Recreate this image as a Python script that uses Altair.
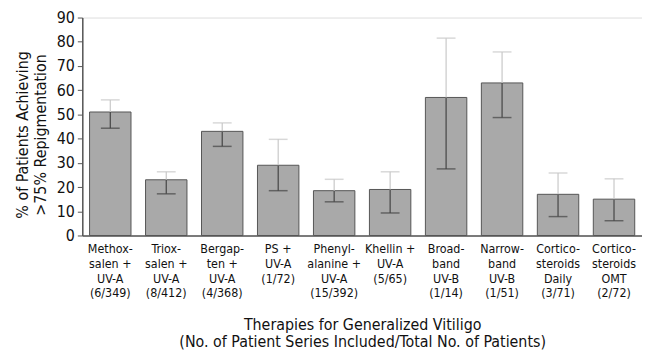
import altair as alt
import pandas as pd

categories = [
    "Methox-|salen +|UV-A|(6/349)",
    "Triox-|salen +|UV-A|(8/412)",
    "Bergap-|ten +|UV-A|(4/368)",
    "PS +|UV-A|(1/72)",
    "Phenyl-|alanine +|UV-A|(15/392)",
    "Khellin +|UV-A|(5/65)",
    "Broad-|band|UV-B|(1/14)",
    "Narrow-|band|UV-B|(1/51)",
    "Cortico-|steroids|Daily|(3/71)",
    "Cortico-|steroids|OMT|(2/72)",
]
values = [51, 23, 43, 29, 18.5, 19, 57, 63, 17, 15]
low = [44.3, 17.2, 36.8, 18.5, 13.9, 9.3, 27.5, 48.7, 7.8, 6.1]
high = [56, 26.3, 46.5, 39.7, 23.2, 26.3, 81.5, 75.8, 25.8, 23.4]
y_ticks = [0, 10, 20, 30, 40, 50, 60, 70, 80, 90]

df = pd.DataFrame({"cat": categories, "value": values, "low": low, "high": high})

FONT = "DejaVu Sans Condensed, Liberation Sans, sans-serif"

xaxis = alt.Axis(
    title=["Therapies for Generalized Vitiligo",
           "(No. of Patient Series Included/Total No. of Patients)"],
    labelAngle=0,
    labelExpr="split(datum.label, '|')",
    labelFont=FONT, labelFontSize=12.5, labelLineHeight=15,
    labelColor="#111", labelPadding=7, labelBaseline="top",
    labelOverlap=False,
    ticks=False, domainColor="#555", domainWidth=1.5,
    titleFont=FONT, titleFontSize=16, titleFontWeight="normal",
    titleColor="#111", titleLineHeight=18, titlePadding=17,
)
yaxis = alt.Axis(
    title=["% of Patients Achieving", ">75% Repigmentation"],
    values=y_ticks,
    labelOverlap=False,
    grid=False, tickSize=5, tickColor="#555", domainColor="#555",
    domainWidth=1.5, labelFont=FONT, labelFontSize=16, labelColor="#111",
    labelPadding=3,
    titleFont=FONT, titleFontSize=16, titleFontWeight="normal",
    titleColor="#111", titleLineHeight=18, titlePadding=8, titleY=118,
)
xscale = alt.Scale(paddingInner=0.26, paddingOuter=0.13)
yscale = alt.Scale(domain=[0, 90])


def X():
    return alt.X("cat:N", sort=categories, scale=xscale, axis=xaxis)


def Y(field):
    return alt.Y(f"{field}:Q", scale=yscale, axis=yaxis)


base = alt.Chart(df)
bars = base.mark_bar(color="#a9a9a9", stroke="#555", strokeWidth=1).encode(x=X(), y=Y("value"))
err_in = base.mark_rule(color="#444", strokeWidth=1.2).encode(
    x=X(), y=Y("low"), y2="value:Q")
err_out = base.mark_rule(color="#c8c8c8", strokeWidth=1.2).encode(
    x=X(), y=Y("value"), y2="high:Q")
cap_low = base.mark_tick(color="#444", size=19, thickness=1.5, orient="horizontal").encode(
    x=X(), y=Y("low"))
cap_high = base.mark_tick(color="#c8c8c8", size=19, thickness=1.5, orient="horizontal").encode(
    x=X(), y=Y("high"))

chart = alt.layer(bars, err_in, err_out, cap_low, cap_high).properties(
    width=565, height=220,
    autosize=alt.AutoSizeParams(type="none"),
    padding={"left": 75, "top": 8, "right": 0, "bottom": 118},
).configure_view(stroke="transparent", strokeWidth=0).configure(background="white")

chart.save("out.html", embed_options={"renderer": "svg", "actions": False})
